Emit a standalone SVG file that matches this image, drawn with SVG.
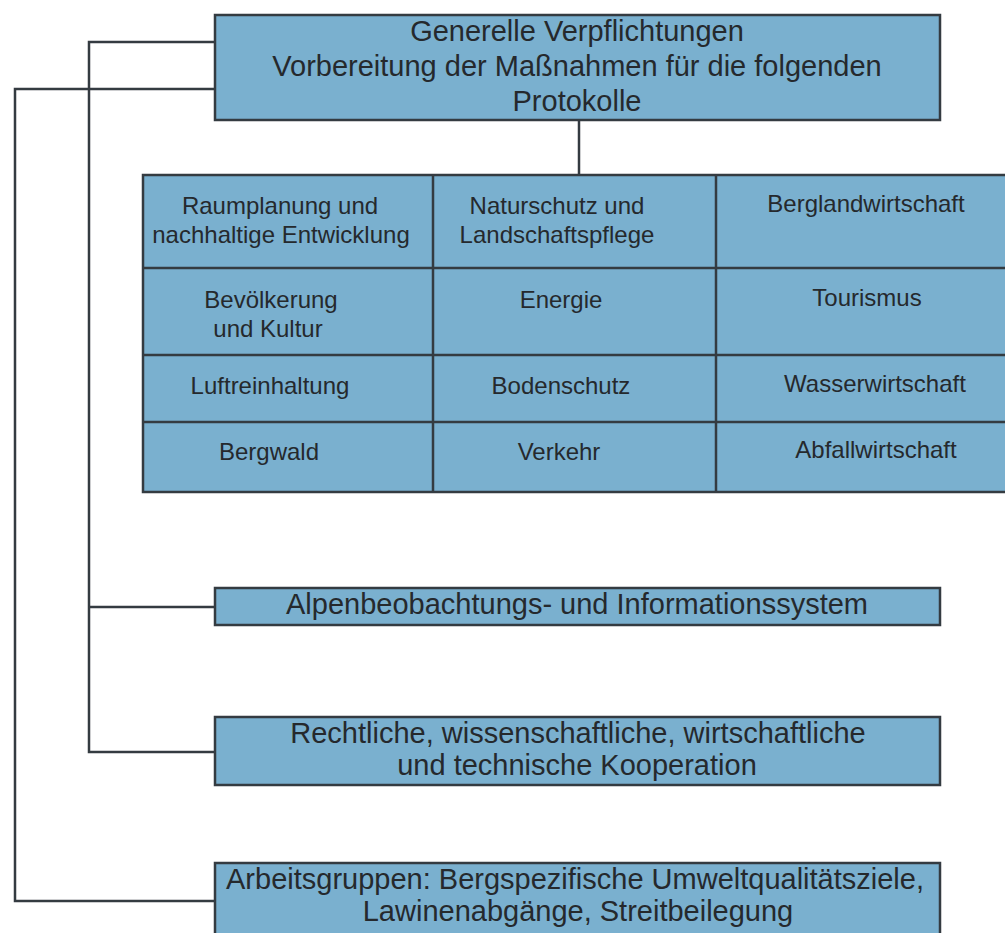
<svg xmlns="http://www.w3.org/2000/svg" width="1005" height="933" viewBox="0 0 1005 933">
<style>
.box{fill:#7ab0cf;stroke:#343b41;stroke-width:2.5}
.ln{fill:none;stroke:#343b41;stroke-width:2.5}
text{font-family:"Liberation Sans",Arial,sans-serif;fill:#25292d;text-anchor:middle}
.big{font-size:29px}
.mid{font-size:29px}
.sm{font-size:24px}
</style>
<rect width="1005" height="933" fill="#ffffff"/>
<g id="connectors">
<path class="ln" d="M215 42 H89 V752 H215"/>
<path class="ln" d="M89 607 H215"/>
<path class="ln" d="M215 89 H15 V901 H215"/>
<path class="ln" d="M579 120 V175"/>
</g>
<g id="n-general">
<rect class="box" x="215" y="15" width="725" height="105"/>
<text class="big" x="577" y="41">Generelle Verpflichtungen</text>
<text class="big" x="577" y="76">Vorbereitung der Maßnahmen für die folgenden</text>
<text class="big" x="577" y="111">Protokolle</text>
</g>
<g id="n-protocols">
<rect class="box" x="143" y="175" width="875" height="317"/>
<path class="ln" d="M433 175 V492 M716 175 V492 M143 268 H1005 M143 355 H1005 M143 422 H1005"/>
</g>
<g id="n-raumplanung"><text class="sm" x="280" y="214">Raumplanung und</text><text class="sm" x="281" y="243">nachhaltige Entwicklung</text></g>
<g id="n-naturschutz"><text class="sm" x="557" y="214">Naturschutz und</text><text class="sm" x="557" y="243">Landschaftspflege</text></g>
<g id="n-berglandwirtschaft"><text class="sm" x="866" y="212">Berglandwirtschaft</text></g>
<g id="n-bevoelkerung"><text class="sm" x="271" y="308">Bevölkerung</text><text class="sm" x="268" y="337">und Kultur</text></g>
<g id="n-energie"><text class="sm" x="561" y="308">Energie</text></g>
<g id="n-tourismus"><text class="sm" x="867" y="306">Tourismus</text></g>
<g id="n-luft"><text class="sm" x="270" y="394">Luftreinhaltung</text></g>
<g id="n-boden"><text class="sm" x="561" y="394">Bodenschutz</text></g>
<g id="n-wasser"><text class="sm" x="875" y="392">Wasserwirtschaft</text></g>
<g id="n-bergwald"><text class="sm" x="269" y="460">Bergwald</text></g>
<g id="n-verkehr"><text class="sm" x="559" y="460">Verkehr</text></g>
<g id="n-abfall"><text class="sm" x="876" y="458">Abfallwirtschaft</text></g>
<g id="n-alpen">
<rect class="box" x="215" y="588" width="725" height="37"/>
<text class="mid" x="577" y="614">Alpenbeobachtungs- und Informationssystem</text>
</g>
<g id="n-kooperation">
<rect class="box" x="215" y="717" width="725" height="68"/>
<text class="mid" x="578" y="743">Rechtliche, wissenschaftliche, wirtschaftliche</text>
<text class="mid" x="577" y="775">und technische Kooperation</text>
</g>
<g id="n-arbeitsgruppen">
<rect class="box" x="215" y="863" width="725" height="90"/>
<text class="mid" x="575" y="889">Arbeitsgruppen: Bergspezifische Umweltqualitätsziele,</text>
<text class="mid" x="578" y="921">Lawinenabgänge, Streitbeilegung</text>
</g>
</svg>
